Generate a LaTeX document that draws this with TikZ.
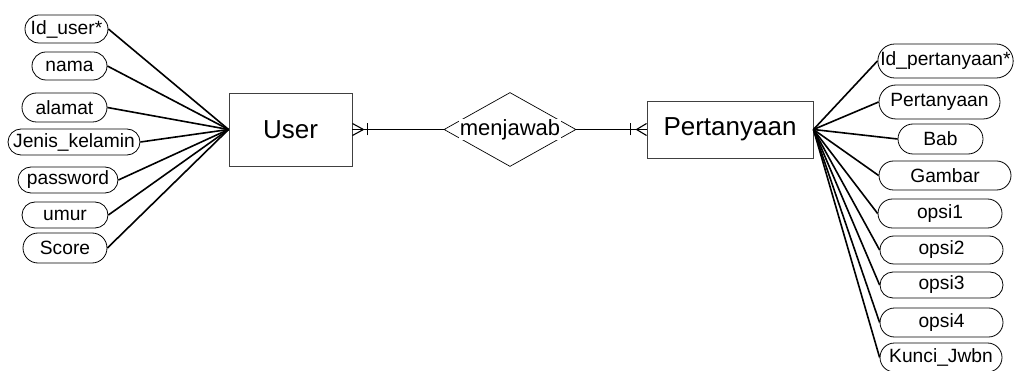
\documentclass[tikz,border=0pt]{standalone}
\usepackage{fontspec}
\setmainfont{Liberation Sans}
\usetikzlibrary{shapes.misc,shapes.geometric}
\tikzset{
  attr/.style={rounded rectangle, draw, line width=0.8pt, inner sep=0pt, fill=white,
    font=\fontsize{19.2}{21}\selectfont},
  ent/.style={draw=black!75, line width=0.9pt, inner sep=0pt,
    font=\fontsize{26}{28}\selectfont},
  attrlink/.style={line width=1.6pt},
  rellink/.style={line width=1.4pt},
  crow/.style={line width=1.1pt},
}
\begin{document}
\begin{tikzpicture}[x=1pt,y=-1pt]
\useasboundingbox (0,0) rectangle (1014,371);
% entities
\node[ent, minimum width=123pt, minimum height=73pt] (user) at (290.5,129.5) {User};
\node[ent, minimum width=166pt, minimum height=57pt] (pert) at (730,129.5) {Pertanyaan};
% relationship
\node[diamond, draw, line width=0.7pt, inner sep=0pt, minimum width=132pt, minimum height=74pt] (rel) at (510,129.5) {};
\node[fill=white, inner sep=0.5pt, font=\fontsize{22}{24}\selectfont] (reltext) at (510,129.5) {menjawab};
% left attributes
\node[attr, minimum width=83pt, minimum height=28pt] (idu) at (66.5,29) {Id\_user*};
\node[attr, minimum width=75pt, minimum height=28pt] (nama) at (69.5,66) {nama};
\node[attr, minimum width=85pt, minimum height=29pt] (alamat) at (64.5,107.5) {alamat};
\node[attr, minimum width=132pt, minimum height=26pt] (jk) at (74,142) {Jenis\_kelamin};
\node[attr, minimum width=100pt, minimum height=26pt] (pw) at (68,180) {password};
\node[attr, minimum width=86pt, minimum height=26pt] (umur) at (65,215) {umur};
\node[attr, minimum width=84pt, minimum height=30pt] (score) at (65,248) {Score};
% right attributes
\node[attr, minimum width=135pt, minimum height=34pt] (idp) at (945.5,61) {Id\_pertanyaan*};
\node[attr, minimum width=121pt, minimum height=34pt] (ptx) at (939.5,102) {Pertanyaan};
\node[attr, minimum width=85pt, minimum height=30pt] (bab) at (940.5,139) {Bab};
\node[attr, minimum width=132pt, minimum height=29pt] (gambar) at (945,175.5) {Gambar};
\node[attr, minimum width=124pt, minimum height=29pt] (o1) at (940,213.5) {opsi1};
\node[attr, minimum width=123pt, minimum height=28pt] (o2) at (941.5,250) {opsi2};
\node[attr, minimum width=123pt, minimum height=26pt] (o3) at (941.5,285) {opsi3};
\node[attr, minimum width=123pt, minimum height=29pt] (o4) at (941.5,322.5) {opsi4};
\node[attr, minimum width=122pt, minimum height=29pt] (kunci) at (941,357.5) {Kunci\_Jwbn};
% attribute links
\foreach \a in {idu,nama,alamat,jk,pw,umur,score}
  \draw[attrlink] (\a.east) -- (user.west);
\foreach \a in {idp,ptx,bab,gambar,o1,o2,o3,o4,kunci}
  \draw[attrlink] (pert.east) -- (\a.west);
% relationship links
\draw[rellink] (user.east) -- (rel.west);
\draw[rellink] (rel.east) -- (pert.west);
% crow's feet and bars
\draw[crow] ([yshift=-6pt]user.east) -- ([xshift=11pt]user.east) -- ([yshift=6pt]user.east);
\draw[crow] ([xshift=15pt,yshift=-6pt]user.east) -- ([xshift=15pt,yshift=6pt]user.east);
\draw[crow] ([yshift=-6pt]pert.west) -- ([xshift=-10pt]pert.west) -- ([yshift=6pt]pert.west);
\draw[crow] ([xshift=-16pt,yshift=-6pt]pert.west) -- ([xshift=-16pt,yshift=6pt]pert.west);
\end{tikzpicture}
\end{document}
